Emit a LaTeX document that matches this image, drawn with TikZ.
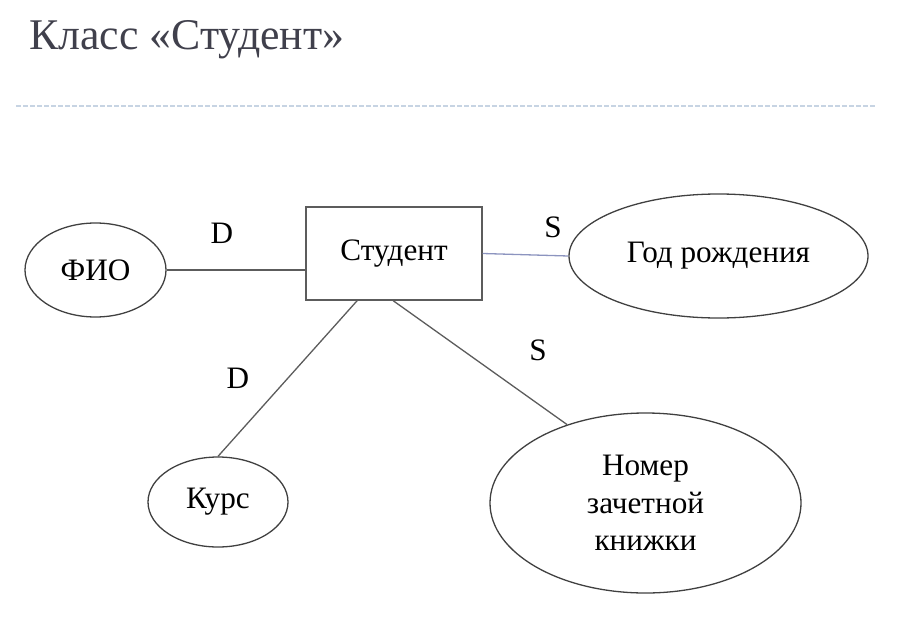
\documentclass[tikz,border=0pt]{standalone}
\usepackage{fontspec}
\setmainfont{Liberation Serif}
\usetikzlibrary{shapes.geometric,calc}
\definecolor{titlecolor}{rgb}{0.25, 0.25, 0.3}
\definecolor{rulecolor}{rgb}{0.78, 0.83, 0.89}
\definecolor{linkcolor}{rgb}{0.36, 0.36, 0.36}
\definecolor{bluelink}{rgb}{0.55, 0.58, 0.75}
\tikzset{
	entity/.style={
		rectangle,
		draw=linkcolor,
		line width=0.7pt,
		minimum width=88pt,
		minimum height=46.5pt,
		font=\fontsize{15.6}{18}\selectfont
	},
	attribute/.style={
		ellipse,
		draw=black!75,
		line width=0.65pt,
		inner sep=0pt,
		align=center,
		font=\fontsize{15.6}{18.8}\selectfont
	},
	link/.style={
		draw=linkcolor,
		line width=0.65pt
	},
	kind/.style={
		font=\fontsize{15.6}{18}\selectfont
	},
}

\begin{document}
\begin{tikzpicture}[x=0.5pt,y=-0.5pt]
\useasboundingbox (0,0) rectangle (909,626);
\node [anchor=base west,inner sep=0pt,text=titlecolor,font=\fontsize{21.9}{26}\selectfont] (title) at (29,50) {Класс «Студент»};
\coordinate (rulea) at (16,106);
\coordinate (ruleb) at (875,106);
\draw [rulecolor,line width=0.9pt,dash pattern=on 2.3pt off 1.2pt] (rulea) -- (ruleb);

\node [entity] (student) at (394,253.5) {Студент};
\node [attribute,minimum width=70.5pt,minimum height=47pt] (fio) at (95.5,270) {ФИО};
\node [attribute,minimum width=149.5pt,minimum height=62pt] (god) at (718.5,256) {Год рождения};
\node [attribute,minimum width=70pt,minimum height=45pt] (kurs) at (218,502) {Курс};
\node [attribute,minimum width=155.5pt,minimum height=90pt] (nomer) at (645.5,503) {Номер\\зачетной\\книжки};

\path[link]
(fio.east) edge (fio.east -| student.west)
(student.232) edge (kurs.north)
(student.269) edge (nomer.135)
;
\draw [bluelink,line width=0.65pt] (student.east) -- (god.west);

\node [kind] (d1) at (222,233) {D};
\node [kind] (d2) at (238,378) {D};
\node [kind] (s1) at (553,227) {S};
\node [kind] (s2) at (538,350) {S};
\end{tikzpicture}
\end{document}
